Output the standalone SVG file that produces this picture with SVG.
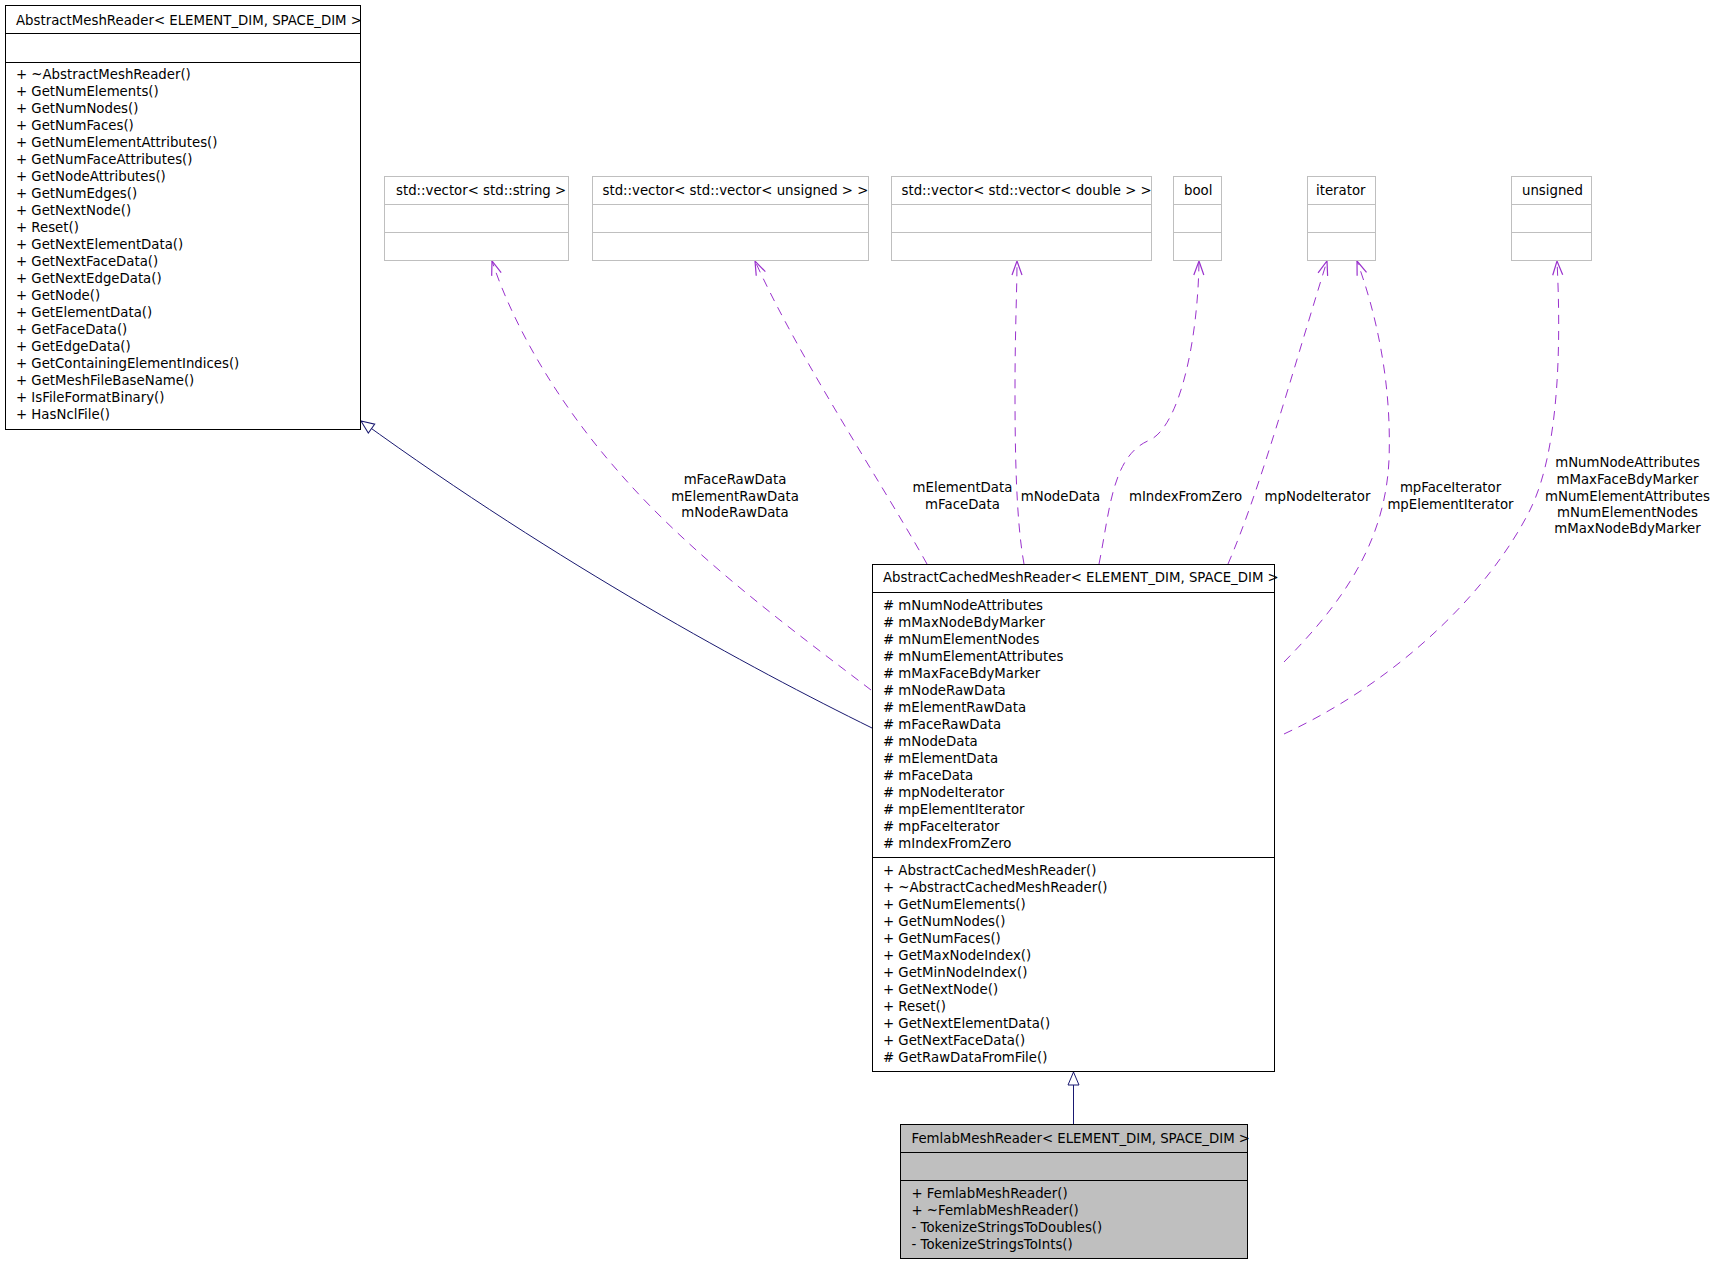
<svg xmlns="http://www.w3.org/2000/svg" width="1711" height="1264" viewBox="0 0 1711 1264">
<style>
  text { font-family: "DejaVu Sans", "Liberation Sans", sans-serif; font-size: 13.3px; fill: #000; }
  .lbl { text-anchor: middle; }
  .box { fill: #fff; stroke: #000; stroke-width: 1; }
  .gbox { fill: #fff; stroke: #bfbfbf; stroke-width: 1; }
  .sel { fill: #bfbfbf; stroke: #000; stroke-width: 1; }
  .sep { stroke: #000; stroke-width: 1; }
  .gsep { stroke: #bfbfbf; stroke-width: 1; }
  .inh { fill: none; stroke: #191970; stroke-width: 1; marker-end: url(#tri); }
  .use { fill: none; stroke: #9a32cd; stroke-width: 1; stroke-dasharray: 9 7; marker-end: url(#open); }
</style>
<defs>
  <marker id="tri" markerUnits="userSpaceOnUse" orient="auto" refX="0" refY="0" markerWidth="20" markerHeight="20" overflow="visible">
    <path d="M0,0 L-13,-5.5 L-13,5.5 Z" fill="#fff" stroke="#191970" stroke-width="1" stroke-dasharray="none"/>
  </marker>
  <marker id="open" markerUnits="userSpaceOnUse" orient="auto" refX="0" refY="0" markerWidth="20" markerHeight="20" overflow="visible">
    <path d="M-14,-5 L0,0 L-14,5" fill="none" stroke="#9a32cd" stroke-width="1.2" stroke-dasharray="none"/>
  </marker>
</defs>
<rect x="0" y="0" width="1711" height="1264" fill="#fff"/>

<g id="connectors">
  <path class="inh" d="M872,728 C750,668 560,565 361,421"/>
  <path class="inh" d="M1073.5,1124 L1073.5,1072"/>
  <path class="use" d="M871,690 C790,628 690,555 617,470 C560,405 515,330 492,261"/>
  <path class="use" d="M927,564 C880,480 800,360 755,261"/>
  <path class="use" d="M1024,564 C1016,520 1015,450 1015,390 C1015,330 1017,290 1017,261"/>
  <path class="use" d="M1099,564 C1110,510 1112,455 1150,440 C1180,425 1198,340 1199,261"/>
  <path class="use" d="M1228,564 C1260,490 1290,380 1327,261"/>
  <path class="use" d="M1284,662 C1340,605 1385,545 1389,460 C1392,380 1375,310 1357,261"/>
  <path class="use" d="M1284,734 C1400,680 1490,590 1530,510 C1560,450 1561,340 1557,261"/>
  <g id="edge-labels">
    <text class="lbl" x="735" y="484">mFaceRawData</text>
    <text class="lbl" x="735" y="500.5">mElementRawData</text>
    <text class="lbl" x="735" y="517">mNodeRawData</text>
    <text class="lbl" x="962.5" y="491.5">mElementData</text>
    <text class="lbl" x="962.5" y="509">mFaceData</text>
    <text class="lbl" x="1060.5" y="500.5">mNodeData</text>
    <text class="lbl" x="1185.5" y="500.5">mIndexFromZero</text>
    <text class="lbl" x="1317.5" y="500.5">mpNodeIterator</text>
    <text class="lbl" x="1450.5" y="491.5">mpFaceIterator</text>
    <text class="lbl" x="1450.5" y="508.5">mpElementIterator</text>
    <text class="lbl" x="1627.5" y="466.5">mNumNodeAttributes</text>
    <text class="lbl" x="1627.5" y="483.5">mMaxFaceBdyMarker</text>
    <text class="lbl" x="1627.5" y="500.5">mNumElementAttributes</text>
    <text class="lbl" x="1627.5" y="516.5">mNumElementNodes</text>
    <text class="lbl" x="1627.5" y="533">mMaxNodeBdyMarker</text>
  </g>
</g>

<g id="AbstractMeshReader">
  <rect class="box" x="5.5" y="5.5" width="355" height="424"/>
  <line class="sep" x1="5.5" y1="33.5" x2="360.5" y2="33.5"/>
  <line class="sep" x1="5.5" y1="62.5" x2="360.5" y2="62.5"/>
  <text x="16" y="25">AbstractMeshReader&lt; ELEMENT_DIM, SPACE_DIM &gt;</text>
  <text x="16" y="79">+ ~AbstractMeshReader()</text>
  <text x="16" y="96">+ GetNumElements()</text>
  <text x="16" y="113">+ GetNumNodes()</text>
  <text x="16" y="130">+ GetNumFaces()</text>
  <text x="16" y="147">+ GetNumElementAttributes()</text>
  <text x="16" y="164">+ GetNumFaceAttributes()</text>
  <text x="16" y="181">+ GetNodeAttributes()</text>
  <text x="16" y="198">+ GetNumEdges()</text>
  <text x="16" y="215">+ GetNextNode()</text>
  <text x="16" y="232">+ Reset()</text>
  <text x="16" y="249">+ GetNextElementData()</text>
  <text x="16" y="266">+ GetNextFaceData()</text>
  <text x="16" y="283">+ GetNextEdgeData()</text>
  <text x="16" y="300">+ GetNode()</text>
  <text x="16" y="317">+ GetElementData()</text>
  <text x="16" y="334">+ GetFaceData()</text>
  <text x="16" y="351">+ GetEdgeData()</text>
  <text x="16" y="368">+ GetContainingElementIndices()</text>
  <text x="16" y="385">+ GetMeshFileBaseName()</text>
  <text x="16" y="402">+ IsFileFormatBinary()</text>
  <text x="16" y="419">+ HasNclFile()</text>
</g>

<g id="vector_string">
  <rect class="gbox" x="384.5" y="176.5" width="184" height="84"/>
  <line class="gsep" x1="384.5" y1="204.5" x2="568.5" y2="204.5"/>
  <line class="gsep" x1="384.5" y1="232.5" x2="568.5" y2="232.5"/>
  <text x="396" y="195">std::vector&lt; std::string &gt;</text>
</g>
<g id="vector_vector_unsigned">
  <rect class="gbox" x="592.5" y="176.5" width="276" height="84"/>
  <line class="gsep" x1="592.5" y1="204.5" x2="868.5" y2="204.5"/>
  <line class="gsep" x1="592.5" y1="232.5" x2="868.5" y2="232.5"/>
  <text x="602.5" y="195">std::vector&lt; std::vector&lt; unsigned &gt; &gt;</text>
</g>
<g id="vector_vector_double">
  <rect class="gbox" x="891.5" y="176.5" width="260" height="84"/>
  <line class="gsep" x1="891.5" y1="204.5" x2="1151.5" y2="204.5"/>
  <line class="gsep" x1="891.5" y1="232.5" x2="1151.5" y2="232.5"/>
  <text x="901.5" y="195">std::vector&lt; std::vector&lt; double &gt; &gt;</text>
</g>
<g id="bool">
  <rect class="gbox" x="1173.5" y="176.5" width="48" height="84"/>
  <line class="gsep" x1="1173.5" y1="204.5" x2="1221.5" y2="204.5"/>
  <line class="gsep" x1="1173.5" y1="232.5" x2="1221.5" y2="232.5"/>
  <text x="1184" y="195">bool</text>
</g>
<g id="iterator">
  <rect class="gbox" x="1307.5" y="176.5" width="68" height="84"/>
  <line class="gsep" x1="1307.5" y1="204.5" x2="1375.5" y2="204.5"/>
  <line class="gsep" x1="1307.5" y1="232.5" x2="1375.5" y2="232.5"/>
  <text x="1316" y="195">iterator</text>
</g>
<g id="unsigned">
  <rect class="gbox" x="1511.5" y="176.5" width="80" height="84"/>
  <line class="gsep" x1="1511.5" y1="204.5" x2="1591.5" y2="204.5"/>
  <line class="gsep" x1="1511.5" y1="232.5" x2="1591.5" y2="232.5"/>
  <text x="1522" y="195">unsigned</text>
</g>

<g id="AbstractCachedMeshReader">
  <rect class="box" x="872.5" y="564.5" width="402" height="507"/>
  <line class="sep" x1="872.5" y1="592.5" x2="1274.5" y2="592.5"/>
  <line class="sep" x1="872.5" y1="857.5" x2="1274.5" y2="857.5"/>
  <text x="883" y="582">AbstractCachedMeshReader&lt; ELEMENT_DIM, SPACE_DIM &gt;</text>
  <text x="883" y="610">#  mNumNodeAttributes</text>
  <text x="883" y="627">#  mMaxNodeBdyMarker</text>
  <text x="883" y="644">#  mNumElementNodes</text>
  <text x="883" y="661">#  mNumElementAttributes</text>
  <text x="883" y="678">#  mMaxFaceBdyMarker</text>
  <text x="883" y="695">#  mNodeRawData</text>
  <text x="883" y="712">#  mElementRawData</text>
  <text x="883" y="729">#  mFaceRawData</text>
  <text x="883" y="746">#  mNodeData</text>
  <text x="883" y="763">#  mElementData</text>
  <text x="883" y="780">#  mFaceData</text>
  <text x="883" y="797">#  mpNodeIterator</text>
  <text x="883" y="814">#  mpElementIterator</text>
  <text x="883" y="831">#  mpFaceIterator</text>
  <text x="883" y="848">#  mIndexFromZero</text>
  <text x="883" y="875">+ AbstractCachedMeshReader()</text>
  <text x="883" y="892">+ ~AbstractCachedMeshReader()</text>
  <text x="883" y="909">+ GetNumElements()</text>
  <text x="883" y="926">+ GetNumNodes()</text>
  <text x="883" y="943">+ GetNumFaces()</text>
  <text x="883" y="960">+ GetMaxNodeIndex()</text>
  <text x="883" y="977">+ GetMinNodeIndex()</text>
  <text x="883" y="994">+ GetNextNode()</text>
  <text x="883" y="1011">+ Reset()</text>
  <text x="883" y="1028">+ GetNextElementData()</text>
  <text x="883" y="1045">+ GetNextFaceData()</text>
  <text x="883" y="1062">#  GetRawDataFromFile()</text>
</g>

<g id="FemlabMeshReader">
  <rect class="sel" x="900.5" y="1124.5" width="347" height="134"/>
  <line class="sep" x1="900.5" y1="1152.5" x2="1247.5" y2="1152.5"/>
  <line class="sep" x1="900.5" y1="1180.5" x2="1247.5" y2="1180.5"/>
  <text x="911.5" y="1143">FemlabMeshReader&lt; ELEMENT_DIM, SPACE_DIM &gt;</text>
  <text x="911.5" y="1197.5">+ FemlabMeshReader()</text>
  <text x="911.5" y="1214.5">+ ~FemlabMeshReader()</text>
  <text x="911.5" y="1231.5">- TokenizeStringsToDoubles()</text>
  <text x="911.5" y="1248.5">- TokenizeStringsToInts()</text>
</g>
</svg>
